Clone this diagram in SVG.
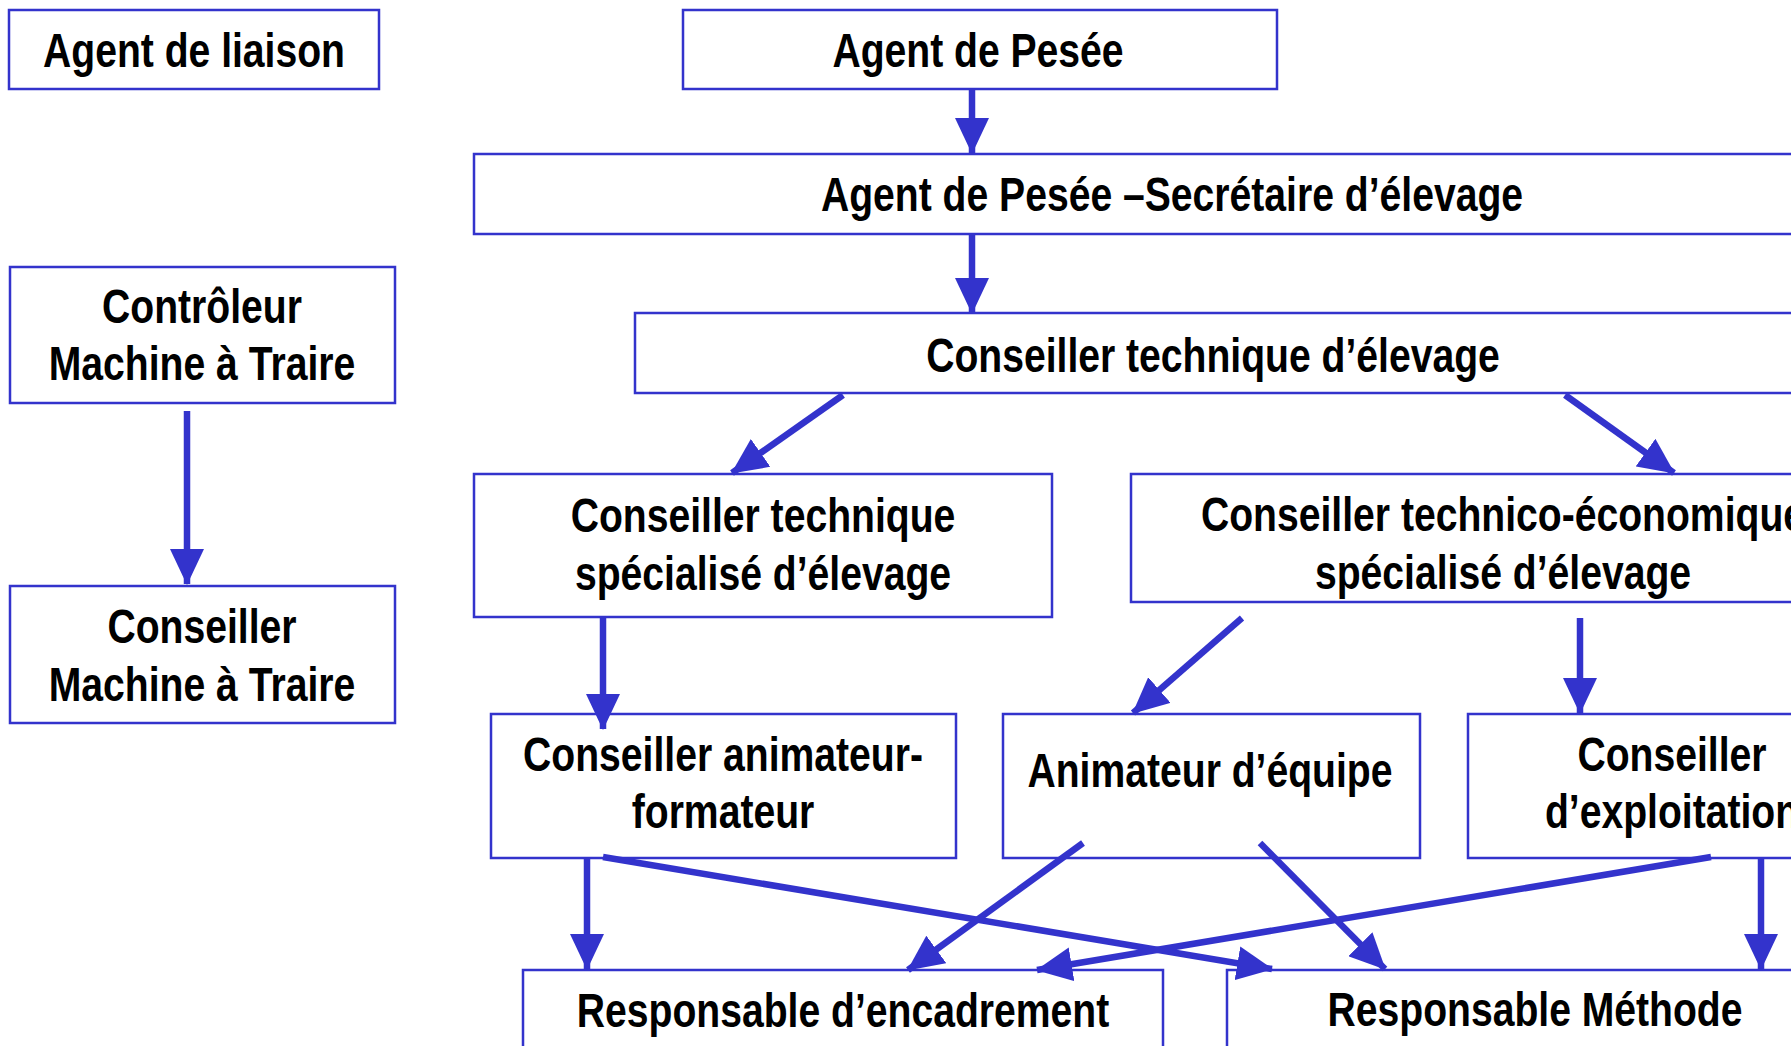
<svg xmlns="http://www.w3.org/2000/svg" width="1791" height="1046" viewBox="0 0 1791 1046">
<style>
.box{fill:#fff;stroke:#3333CC;stroke-width:2.5}
.t{font-family:"Liberation Sans","Arial",sans-serif;font-weight:bold;font-size:48px;fill:#000;text-anchor:middle}
.c{stroke:#3333CC;stroke-width:6.5;fill:none;marker-end:url(#ah)}
</style>
<defs>
<marker id="ah" viewBox="0 0 36 34" markerWidth="36" markerHeight="34" refX="35" refY="17" orient="auto" markerUnits="userSpaceOnUse">
<path d="M0,0 L36,17 L0,34 z" fill="#3333CC"/>
</marker>
</defs>
<rect width="1791" height="1046" fill="#fff"/>
<g id="n-agent-liaison"><rect class="box" x="9" y="10" width="370" height="79"/><text class="t" transform="translate(194 0) scale(0.815 1)" x="0" y="67">Agent de liaison</text></g>
<g id="n-agent-pesee"><rect class="box" x="683" y="10" width="594" height="79"/><text class="t" transform="translate(978 0) scale(0.815 1)" x="0" y="67">Agent de Pesée</text></g>
<g id="n-secretaire"><rect class="box" x="474" y="154" width="1400" height="80"/><text class="t" transform="translate(1172 0) scale(0.815 1)" x="0" y="211">Agent de Pesée –Secrétaire d’élevage</text></g>
<g id="n-conseiller-technique"><rect class="box" x="635" y="313" width="1200" height="80"/><text class="t" transform="translate(1213 0) scale(0.815 1)" x="0" y="372">Conseiller technique d’élevage</text></g>
<g id="n-controleur-mat"><rect class="box" x="10" y="267" width="385" height="136"/><text class="t" transform="translate(202 0) scale(0.815 1)" x="0" y="323">Contrôleur</text><text class="t" transform="translate(202 0) scale(0.815 1)" x="0" y="380">Machine à Traire</text></g>
<g id="n-conseiller-mat"><rect class="box" x="10" y="586" width="385" height="137"/><text class="t" transform="translate(202 0) scale(0.815 1)" x="0" y="643">Conseiller</text><text class="t" transform="translate(202 0) scale(0.815 1)" x="0" y="701">Machine à Traire</text></g>
<g id="n-cts"><rect class="box" x="474" y="474" width="578" height="143"/><text class="t" transform="translate(763 0) scale(0.815 1)" x="0" y="532">Conseiller technique</text><text class="t" transform="translate(763 0) scale(0.815 1)" x="0" y="590">spécialisé d’élevage</text></g>
<g id="n-cte"><rect class="box" x="1131" y="474" width="800" height="128"/><text class="t" transform="translate(1503 0) scale(0.815 1)" x="0" y="531">Conseiller technico-économique</text><text class="t" transform="translate(1503 0) scale(0.815 1)" x="0" y="589">spécialisé d’élevage</text></g>
<g id="n-caf"><rect class="box" x="491" y="714" width="465" height="144"/><text class="t" transform="translate(723 0) scale(0.815 1)" x="0" y="771">Conseiller animateur-</text><text class="t" transform="translate(723 0) scale(0.815 1)" x="0" y="828">formateur</text></g>
<g id="n-ae"><rect class="box" x="1003" y="714" width="417" height="144"/><text class="t" transform="translate(1210 0) scale(0.815 1)" x="0" y="787">Animateur d’équipe</text></g>
<g id="n-ce"><rect class="box" x="1468" y="714" width="500" height="144"/><text class="t" transform="translate(1672 0) scale(0.815 1)" x="0" y="771">Conseiller</text><text class="t" transform="translate(1672 0) scale(0.815 1)" x="0" y="828">d’exploitation</text></g>
<g id="n-re"><rect class="box" x="523" y="970" width="640" height="150"/><text class="t" transform="translate(843 0) scale(0.815 1)" x="0" y="1027">Responsable d’encadrement</text></g>
<g id="n-rm"><rect class="box" x="1227" y="970" width="700" height="150"/><text class="t" transform="translate(1535 0) scale(0.815 1)" x="0" y="1026">Responsable Méthode</text></g>
<g id="connectors">
<line class="c" x1="972" y1="89" x2="972" y2="153"/>
<line class="c" x1="972" y1="234" x2="972" y2="313"/>
<line class="c" x1="843" y1="395" x2="732" y2="473"/>
<line class="c" x1="1565" y1="395" x2="1674" y2="473"/>
<line class="c" x1="187" y1="411" x2="187" y2="584"/>
<line class="c" x1="603" y1="617" x2="603" y2="729"/>
<line class="c" x1="1242" y1="618" x2="1133" y2="713"/>
<line class="c" x1="1580" y1="618" x2="1580" y2="713"/>
<line class="c" x1="587" y1="858" x2="587" y2="969"/>
<line class="c" x1="603" y1="857" x2="1272" y2="969"/>
<line class="c" x1="1083" y1="843" x2="908" y2="970"/>
<line class="c" x1="1260" y1="843" x2="1385" y2="969"/>
<line class="c" x1="1711" y1="857" x2="1037" y2="970"/>
<line class="c" x1="1761" y1="858" x2="1761" y2="969"/>
</g>
</svg>
